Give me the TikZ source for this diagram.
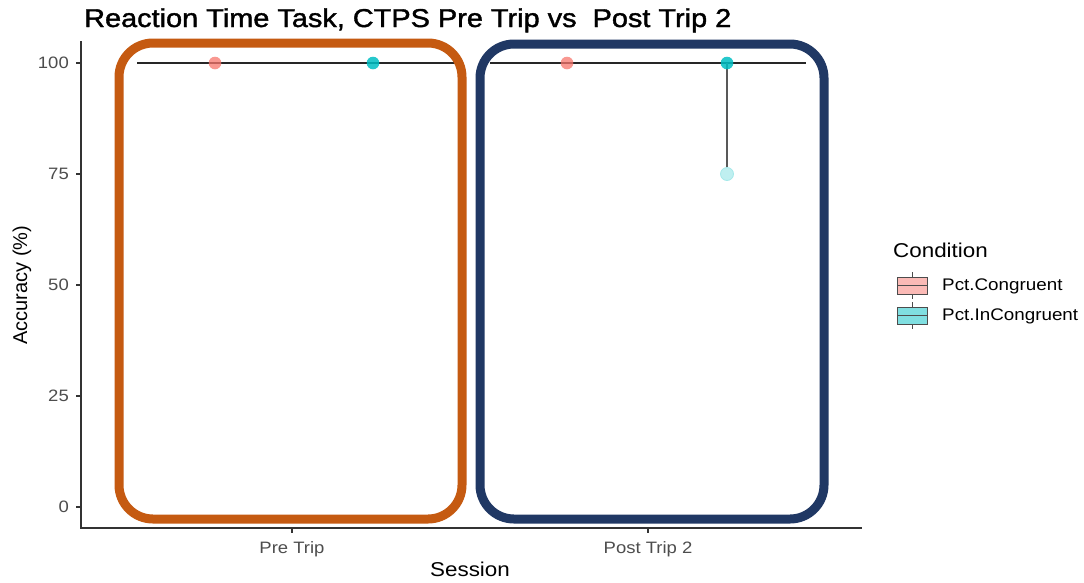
\documentclass[tikz,border=0pt]{standalone}
\usepackage{fontspec}
\setmainfont[FakeStretch=1.12]{Liberation Sans}
\newfontfamily\plainsans{Liberation Sans}
\newfontfamily\titlefont[FakeStretch=1.12,FakeBold=1.5]{Liberation Sans}
\definecolor{boxorange}{HTML}{C55A11}
\definecolor{boxnavy}{HTML}{203864}
\definecolor{gpink}{HTML}{F8766D}
\definecolor{gteal}{HTML}{00BFC4}
\definecolor{axisgrey}{HTML}{333333}
\definecolor{ticktext}{HTML}{4D4D4D}
\tikzset{
  x=1pt, y=-1pt,
  axisline/.style={draw=axisgrey, line width=1.4pt},
  ticklab/.style={text=ticktext, font=\fontsize{16.5}{18}\selectfont, inner sep=0pt},
  axtitle/.style={text=black, font=\fontsize{20}{22}\selectfont, inner sep=0pt},
  medline/.style={draw=black!85, line width=2pt},
  whisk/.style={draw=black!65, line width=1.5pt},
  dotpink/.style={fill=gpink, fill opacity=0.75, draw=none},
  dotteal/.style={fill=gteal, fill opacity=0.85, draw=none},
  hilite/.style={rounded corners=34pt, line width=9pt},
  legkey/.style={draw=black!70, line width=1pt},
  leglab/.style={font=\fontsize{16.8}{18}\selectfont, anchor=west, inner sep=0pt},
}
\begin{document}
\begin{tikzpicture}
\useasboundingbox[fill=white] (0,0) rectangle (1084,582);
% title
\node[anchor=base west, inner sep=0pt, font=\fontsize{25.8}{27}\titlefont] (title) at (84,27) {Reaction Time Task, CTPS Pre Trip vs\ \ Post Trip 2};
% axes
\draw[axisline] (81,41) -- (81,528) -- (862,528);
% y ticks
\foreach \v/\yy in {100/63,75/174,50/285,25/396,0/507}{
  \draw[axisline, line width=1.1pt] (76,\yy) -- (81,\yy);
  \node[ticklab, anchor=east] (yt\v) at (69,\yy) {\v};
}
% x ticks
\draw[axisline, line width=1.1pt] (292,528) -- (292,533);
\draw[axisline, line width=1.1pt] (648,528) -- (648,533);
\node[ticklab, anchor=base] (xpre) at (292,553) {Pre Trip};
\node[ticklab, anchor=base] (xpost) at (648,553) {Post Trip 2};
% axis titles
\node[axtitle, rotate=90, font=\fontsize{20}{22}\selectfont\plainsans] (ytitle) at (22,285) {Accuracy (\%)};
\node[axtitle, anchor=base] (xtitle) at (470,576) {Session};
% boxplot medians (degenerate boxes)
\draw[medline] (137,63) -- (455,63);
\draw[medline] (490,63) -- (806,63);
% whisker
\draw[whisk] (727,63) -- (727,174);
% outlier
\fill[gteal!25] (727,174) circle (6.5pt);
\draw[gteal!35, line width=0.8pt] (727,174) circle (6.5pt);
% points
\fill[dotpink] (215,63) circle (6.3pt);
\fill[dotteal] (373,63) circle (6.3pt);
\fill[dotpink] (567,63) circle (6.3pt);
\fill[dotteal] (727,63) circle (6.3pt);
% highlight boxes
\draw[hilite, draw=boxorange] (119,43) rectangle (462,519);
\draw[hilite, draw=boxnavy] (480,44) rectangle (824,519);
% legend
\node[anchor=west, inner sep=0pt, font=\fontsize{20}{22}\selectfont] (legtitle) at (893,250) {Condition};
\draw[legkey, fill=gpink!50] (897,277) rectangle (927,294);
\draw[legkey] (897,285.5) -- (927,285.5) (912,272) -- (912,277) (912,294) -- (912,299);
\draw[legkey, fill=gteal!50] (897,307) rectangle (927,324);
\draw[legkey] (897,315.5) -- (927,315.5) (912,302) -- (912,307) (912,324) -- (912,329);
\node[leglab] (leg1) at (942,286) {Pct.Congruent};
\node[leglab] (leg2) at (942,316) {Pct.InCongruent};
\end{tikzpicture}
\end{document}
